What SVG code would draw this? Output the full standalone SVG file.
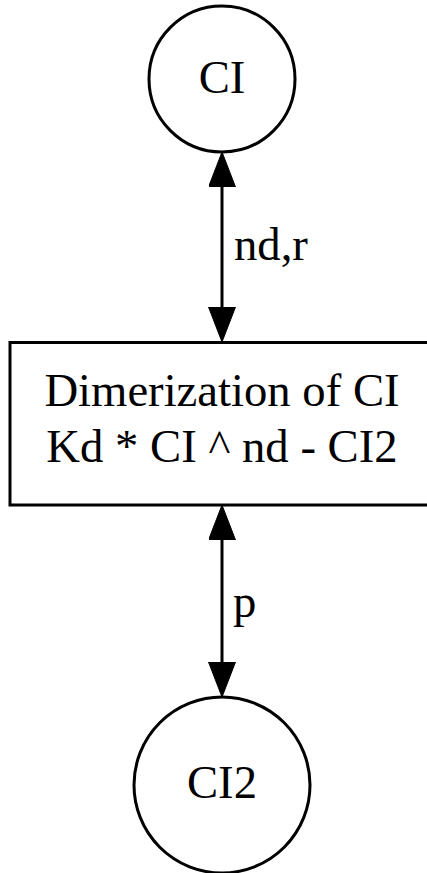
<svg xmlns="http://www.w3.org/2000/svg" width="427" height="873" viewBox="0 0 427 873">
<defs>
<style>
.shape{fill:#fff;stroke:#000;stroke-width:3}
.t{font-family:"Liberation Serif","Times New Roman",serif;font-size:46.7px;fill:#000}
.m{text-anchor:middle}
.edge{stroke:#000;stroke-width:3;fill:none}
</style>
<marker id="ah" markerUnits="userSpaceOnUse" markerWidth="36" markerHeight="28" refX="0" refY="13.5" orient="auto-start-reverse" viewBox="0 0 36 28">
<path d="M0,0 L35,13.5 L0,27 z" fill="#000" stroke="#000" stroke-width="1"/>
</marker>
</defs>
<rect width="427" height="873" fill="#fff"/>
<g id="connectors">
<line class="edge" x1="222" y1="187" x2="222" y2="307" marker-start="url(#ah)" marker-end="url(#ah)"/>
<text class="t" x="234" y="260">nd,r</text>
<line class="edge" x1="222" y1="540" x2="222" y2="662" marker-start="url(#ah)" marker-end="url(#ah)"/>
<text class="t" x="233" y="617">p</text>
</g>
<g id="CI">
<circle class="shape" cx="222" cy="79" r="73"/>
<text class="t m" x="222" y="93">CI</text>
</g>
<g id="dimerization">
<rect class="shape" x="10" y="342.5" width="424" height="162.5"/>
<text class="t m" x="222" y="406">Dimerization of CI</text>
<text class="t m" x="222" y="462">Kd * CI ^ nd - CI2</text>
</g>
<g id="CI2">
<circle class="shape" cx="222" cy="785" r="88"/>
<text class="t m" x="222" y="798">CI2</text>
</g>
</svg>
